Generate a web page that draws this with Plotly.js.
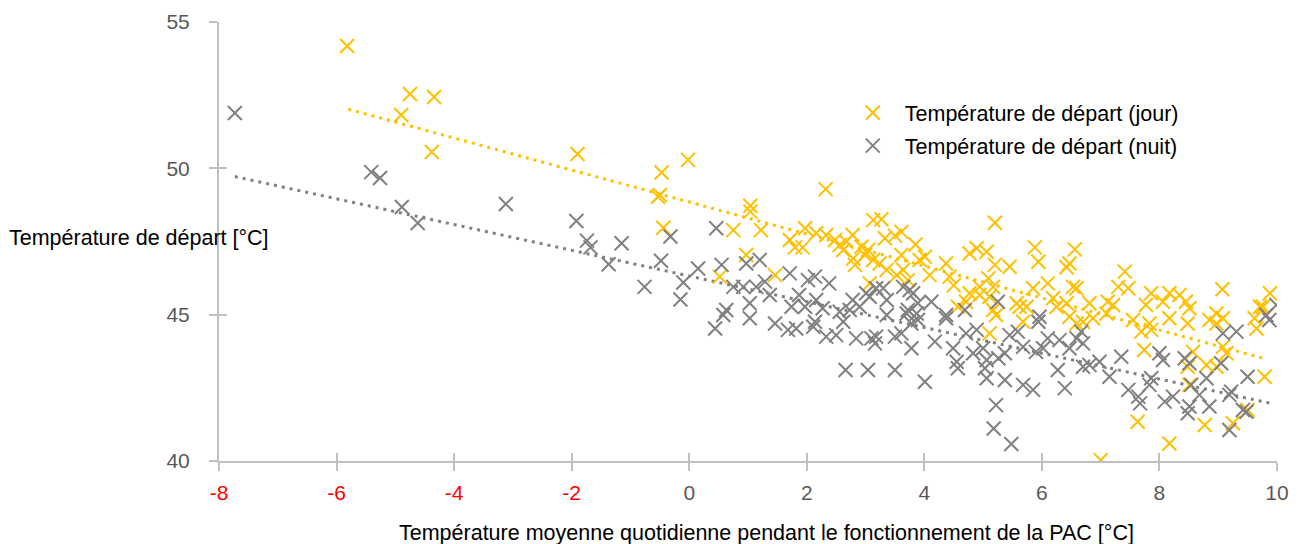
<!DOCTYPE html>
<html>
<head>
<meta charset="utf-8">
<script src="https://cdn.plot.ly/plotly-3.0.1.min.js"></script>
<style>html,body{margin:0;padding:0;background:#fff;}#chart{width:1297px;height:544px;}</style>
</head>
<body>
<div id="chart"></div>
<script>
// Température de départ (jour)
const jourX = [-5.82,-4.75,-4.34,-4.90,-4.38,-1.90,-0.47,-0.02,-0.53,-0.50,-0.44,0.52,0.75,0.97,1.04,1.04,1.22,1.46,1.71,1.80,
  1.93,1.97,2.32,2.16,2.33,2.48,2.56,2.67,2.78,2.93,3.04,3.13,2.62,2.79,2.99,3.13,2.82,3.07,3.27,3.33,
  3.61,3.61,3.92,4.01,4.09,3.24,3.36,3.53,3.64,3.72,4.37,4.43,4.77,4.89,5.06,5.20,5.45,5.20,5.09,5.88,
  5.94,6.56,6.42,4.94,5.17,5.11,6.10,5.85,4.77,4.94,4.57,4.71,5.57,5.74,6.19,6.25,6.42,6.53,5.17,5.22,
  5.68,5.11,5.62,6.47,6.59,6.47,7.41,7.30,7.47,7.86,8.17,8.34,7.77,8.06,8.45,8.51,9.07,9.88,6.59,6.81,
  7.12,7.21,8.97,9.71,6.70,6.87,7.10,7.55,7.83,8.17,8.48,7.69,7.86,8.85,8.97,9.08,9.62,9.65,9.76,7.74,
  8.57,8.48,8.80,8.97,9.08,9.14,8.51,7.63,8.77,9.25,8.17,7.00,9.79,9.50,3.50,3.85,4.50];
const jourY = [54.18,52.54,52.44,51.82,50.56,50.49,49.86,50.29,49.03,49.09,47.97,46.30,47.89,47.04,48.72,48.52,47.89,46.35,47.55,47.30,
  47.30,47.95,49.29,47.78,47.72,47.55,47.38,47.49,47.72,47.32,47.21,48.23,47.21,46.92,47.04,46.87,46.70,46.07,48.26,47.61,
  47.83,47.04,46.87,46.98,46.35,46.75,46.53,46.35,46.53,46.18,46.75,46.30,47.09,47.27,47.15,48.14,46.64,46.70,46.24,47.30,
  46.81,47.23,46.62,45.95,45.95,45.61,46.07,45.90,45.73,45.67,45.27,45.44,45.39,45.27,45.56,45.27,45.39,45.95,45.16,44.99,
  44.76,44.36,45.27,44.93,44.70,46.75,46.47,45.95,45.90,45.73,45.73,45.67,45.33,45.44,45.44,45.22,45.87,45.73,45.90,45.39,
  45.44,45.33,45.04,45.27,44.75,44.88,45.04,44.82,44.70,44.88,44.70,44.42,44.48,44.82,44.70,44.88,44.88,44.53,45.27,43.79,
  43.73,43.22,43.28,43.22,43.90,43.68,42.60,41.34,41.23,41.29,40.60,40.03,42.88,41.74,47.70,47.40,46.00];

// Température de départ (nuit)
const nuitX = [-7.73,-5.41,-5.26,-4.89,-4.62,-3.12,-1.92,-1.74,-1.68,-1.15,-1.37,-0.76,-0.48,-0.32,-0.10,-0.15,0.15,0.46,0.55,0.97,
  1.20,0.75,0.92,1.14,1.29,1.37,1.71,2.02,2.14,1.87,2.16,2.38,2.27,2.78,2.90,3.01,3.18,0.63,1.03,1.97,
  2.56,0.44,0.58,1.03,1.46,1.68,1.82,1.74,2.14,2.11,2.33,2.50,2.62,2.84,2.73,3.10,3.16,2.66,3.04,3.30,
  3.07,3.36,3.64,3.75,3.81,3.89,4.12,3.70,3.87,4.37,4.69,5.25,5.96,3.50,4.01,3.18,3.36,3.50,3.61,3.78,
  3.78,3.89,3.72,4.18,4.37,4.49,4.55,4.57,4.71,4.89,4.83,5.00,5.06,5.03,5.06,5.26,5.37,5.37,5.22,5.18,
  5.48,5.45,5.59,5.68,5.90,6.02,5.68,5.85,5.94,6.10,6.30,6.27,6.39,6.47,6.59,6.67,6.70,6.70,6.81,6.98,
  7.15,7.35,7.47,7.64,7.67,8.00,8.06,7.86,7.83,8.09,8.23,8.43,8.51,8.54,8.51,8.48,8.80,8.85,8.68,9.05,
  9.08,9.19,9.31,9.22,9.19,9.42,9.48,9.50,9.87,9.99,9.82];
const nuitY = [51.89,49.87,49.67,48.68,48.13,48.78,48.20,47.53,47.30,47.44,46.72,45.95,46.84,47.67,46.10,45.52,46.58,47.95,46.70,46.75,
  46.87,45.95,45.95,45.95,46.13,45.67,46.41,46.18,46.30,45.67,45.50,46.07,45.22,45.50,45.27,45.73,45.90,45.16,45.39,45.27,
  45.10,44.53,44.99,44.88,44.70,44.48,44.53,45.27,44.76,44.59,44.25,44.30,44.76,44.19,45.16,44.19,44.02,43.11,43.11,45.90,
  45.61,45.50,45.95,45.84,45.73,45.39,45.44,45.04,45.04,44.99,45.16,45.44,44.93,43.11,42.71,44.25,44.99,44.25,44.36,44.70,
  43.85,44.82,45.16,44.08,44.88,43.85,43.39,43.17,44.36,44.48,43.68,43.85,43.45,43.17,42.83,43.51,43.68,42.77,41.91,41.11,
  40.58,44.30,44.42,43.90,43.73,43.85,42.60,42.43,44.76,44.19,44.13,43.11,42.49,43.85,44.19,44.42,44.02,43.22,43.28,43.39,
  42.88,43.56,42.43,42.20,41.97,43.68,43.45,42.83,42.60,42.03,42.20,43.51,43.34,42.60,41.86,41.63,42.83,41.86,42.26,43.34,
  44.36,42.26,44.42,42.37,41.06,41.74,41.68,42.88,44.82,45.33,44.99];

// Linear trend lines (endpoints)
const trendJourX = [-5.80, 9.82];
const trendJourY = [52.02, 43.48];
const trendNuitX = [-7.73, 9.87];
const trendNuitY = [49.72, 41.98];

// Axis ticks
const xTickVals = [-8,-6,-4,-2,0,2,4,6,8,10];
const xTickText = ['-8','-6','-4','-2','0','2','4','6','8','10'];
const yTickVals = [40,45,50,55];

const YELLOW = '#FFC000';
const GREY = '#808080';
const FONT = 'Liberation Sans, Arial, sans-serif';

const traces = [
  {x: trendJourX, y: trendJourY, mode: 'lines', showlegend: false, hoverinfo: 'skip',
   line: {color: YELLOW, width: 3, dash: '3px,5px'}},
  {x: trendNuitX, y: trendNuitY, mode: 'lines', showlegend: false, hoverinfo: 'skip',
   line: {color: GREY, width: 3, dash: '3px,5px'}},
  {x: jourX, y: jourY, mode: 'markers', name: 'Température de départ (jour)', legendgroup: 'a',
   marker: {symbol: 'x-thin-open', size: 14, color: YELLOW, line: {color: YELLOW, width: 2}}},
  {x: nuitX, y: nuitY, mode: 'markers', name: 'Température de départ (nuit)', legendgroup: 'b',
   marker: {symbol: 'x-thin-open', size: 14, color: GREY, line: {color: GREY, width: 2}}}
];

const coloredX = xTickText.map((t, i) => xTickVals[i] < 0 ? '<span style="color:#FF0000">' + t + '</span>' : t);

const layout = {
  width: 1297, height: 544,
  margin: {l: 219, r: 20, t: 22, b: 83},
  paper_bgcolor: '#fff', plot_bgcolor: '#fff',
  font: {family: FONT, size: 21, color: '#595959'},
  showlegend: true,
  legend: {x: 0.5877, y: 0.84, xanchor: 'left', yanchor: 'top', bgcolor: 'rgba(0,0,0,0)',
           itemwidth: 54, font: {family: FONT, size: 21.5, color: '#000'}, tracegroupgap: 2},
  xaxis: {range: [-8, 10], tickmode: 'array', tickvals: xTickVals, ticktext: coloredX,
          showgrid: false, zeroline: false, showline: true, linecolor: '#BFBFBF', linewidth: 2,
          ticks: 'outside', ticklen: 8, tickwidth: 2, tickcolor: '#BFBFBF', ticklabelstandoff: 4,
          tickfont: {family: FONT, size: 21, color: '#595959'}},
  yaxis: {range: [40, 55], tickmode: 'array', tickvals: yTickVals,
          showgrid: false, zeroline: false, showline: true, linecolor: '#BFBFBF', linewidth: 2,
          ticks: 'outside', ticklen: 8, tickwidth: 2, tickcolor: '#BFBFBF', ticklabelstandoff: 15,
          tickfont: {family: FONT, size: 21, color: '#595959'}},
  xaxis2: {range: [-8, 10], overlaying: 'x', anchor: 'y', tickmode: 'array', tickvals: xTickVals,
           showticklabels: false, showgrid: false, zeroline: false, showline: false,
           ticks: 'inside', ticklen: 8, tickwidth: 2, tickcolor: '#BFBFBF'},
  yaxis2: {range: [40, 55], overlaying: 'y', anchor: 'x', side: 'left', tickmode: 'array', tickvals: yTickVals,
           showticklabels: false, showgrid: false, zeroline: false, showline: false,
           ticks: 'inside', ticklen: 8, tickwidth: 2, tickcolor: '#BFBFBF'},
  annotations: [
    {text: 'Température de départ [°C]', xref: 'paper', yref: 'paper', x: -0.2005, y: 0.509,
     xanchor: 'left', yanchor: 'middle', showarrow: false, font: {family: FONT, size: 21.5, color: '#000'}},
    {text: 'Température moyenne quotidienne pendant le fonctionnement de la PAC [°C]', xref: 'paper', yref: 'paper',
     x: 0.5175, y: -0.164, xanchor: 'center', yanchor: 'middle', showarrow: false,
     font: {family: FONT, size: 21.5, color: '#000'}}
  ]
};

// invisible point so the overlay axes (crossing tick marks) are drawn
traces.push({x: [-8], y: [40], xaxis: 'x2', yaxis: 'y2', mode: 'markers', showlegend: false, hoverinfo: 'skip',
             marker: {opacity: 0}});

Plotly.newPlot('chart', traces, layout, {displayModeBar: false, staticPlot: true});
</script>
</body>
</html>
